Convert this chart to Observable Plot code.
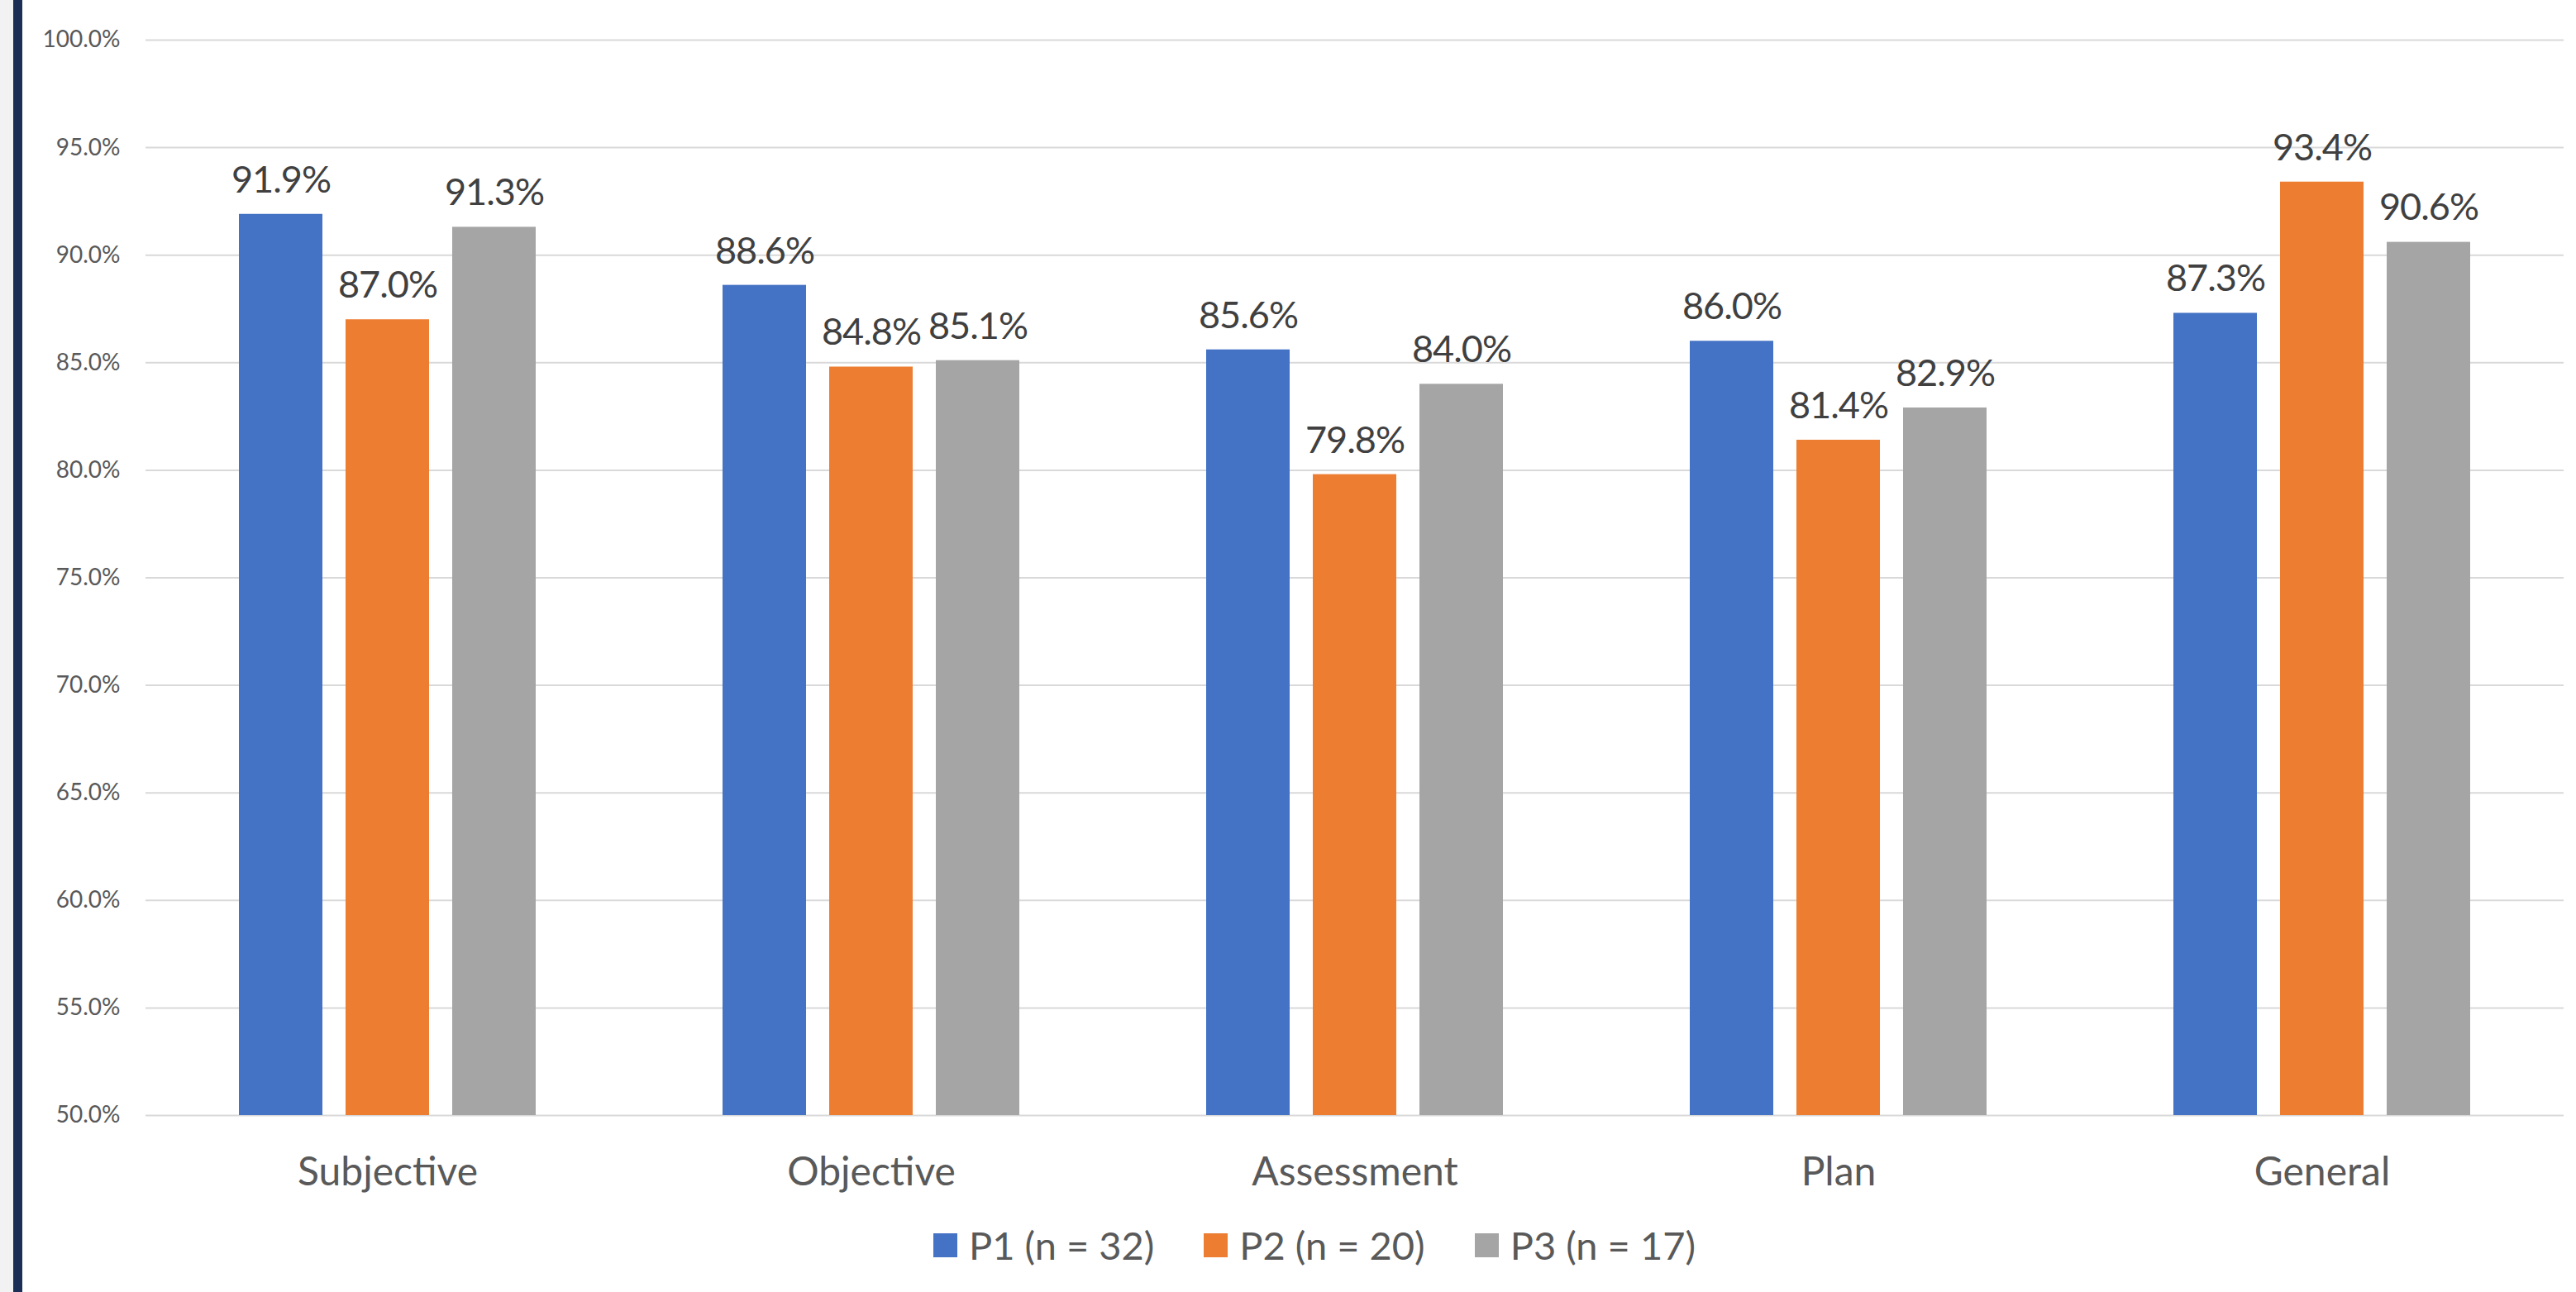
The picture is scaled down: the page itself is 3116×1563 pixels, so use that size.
<!DOCTYPE html>
<html>
<head>
<meta charset="utf-8">
<script src="https://cdn.jsdelivr.net/npm/d3@7"></script>
<script src="https://cdn.jsdelivr.net/npm/@observablehq/plot@0.6"></script>
<style>
  html, body { margin: 0; padding: 0; background: #ffffff; }
  body { width: 3116px; height: 1563px; position: relative; overflow: hidden; font-family: Lato, "Open Sans", sans-serif; }
  #leftgray { position: absolute; left: 0; top: 0; width: 16px; height: 1563px; background: #f2f2f2; }
  #leftnavy { position: absolute; left: 16px; top: 0; width: 11px; height: 1563px; background: #1b2f56; }
  #chart { position: absolute; left: 0; top: 0; }
  #chart .datalabel text { letter-spacing: -1px; }
  #legend { position: absolute; left: 0; top: 1478px; width: 3116px; display: flex; justify-content: center; align-items: center; padding-left: 64px; box-sizing: border-box; }
  .item { display: flex; align-items: center; margin: 0 30px; font-size: 47px; color: #595959; font-family: Lato, sans-serif; }
  .swatch { width: 29px; height: 29px; margin-right: 14px; }
</style>
</head>
<body>
<div id="leftgray"></div>
<div id="leftnavy"></div>
<div id="chart"></div>
<div id="legend"></div>
<script>
// ---- data ----
const categories = ["Subjective", "Objective", "Assessment", "Plan", "General"];
const seriesNames = ["P1 (n = 32)", "P2 (n = 20)", "P3 (n = 17)"];
const seriesColors = ["#4472C4", "#ED7D31", "#A5A5A5"];
const p1Values = [0.919, 0.886, 0.856, 0.860, 0.873];
const p2Values = [0.870, 0.848, 0.798, 0.814, 0.934];
const p3Values = [0.913, 0.851, 0.840, 0.829, 0.906];
const yTicks = [0.50, 0.55, 0.60, 0.65, 0.70, 0.75, 0.80, 0.85, 0.90, 0.95, 1.00];
const yMin = 0.5, yMax = 1.0;

const seriesValues = [p1Values, p2Values, p3Values];
const rows = [];
categories.forEach((c, i) => {
  seriesNames.forEach((s, j) => {
    rows.push({category: c, series: s, value: seriesValues[j][i]});
  });
});

const fmt = d3.format(".1%");

const chart = Plot.plot({
  width: 3116,
  height: 1470,
  marginLeft: 174,
  marginRight: 14,
  marginTop: 48,
  marginBottom: 121,
  style: {fontFamily: "Lato, sans-serif", background: "transparent"},
  fx: {domain: categories, padding: 0, label: null, axis: null},
  x: {domain: seriesNames, paddingInner: 0.215, paddingOuter: 0.86, axis: null},
  y: {domain: [yMin, yMax], ticks: yTicks, axis: null},
  color: {domain: seriesNames, range: seriesColors},
  marks: [
    Plot.ruleY(yTicks, {stroke: "#d9d9d9", strokeWidth: 2}),
    Plot.barY(rows, {fx: "category", x: "series", y1: yMin, y2: "value", fill: "series"}),
    Plot.text(rows, {fx: "category", x: "series", y: "value", text: d => fmt(d.value),
      dy: -41, fontSize: 45, fill: "#404040", className: "datalabel"}),
    Plot.axisY({ticks: yTicks, tickFormat: fmt, tickSize: 0, tickPadding: 31,
      fontSize: 28, color: "#595959", label: null}),
    Plot.axisFx({anchor: "bottom", domain: categories, tickSize: 0, tickPadding: 50, fontSize: 48,
      color: "#595959", label: null})
  ]
});
document.getElementById("chart").appendChild(chart);

const legend = document.getElementById("legend");
seriesNames.forEach((s, j) => {
  const it = document.createElement("div");
  it.className = "item";
  const sw = document.createElement("div");
  sw.className = "swatch";
  sw.style.background = seriesColors[j];
  const tx = document.createElement("span");
  tx.textContent = s;
  it.appendChild(sw); it.appendChild(tx);
  legend.appendChild(it);
});
</script>
</body>
</html>
